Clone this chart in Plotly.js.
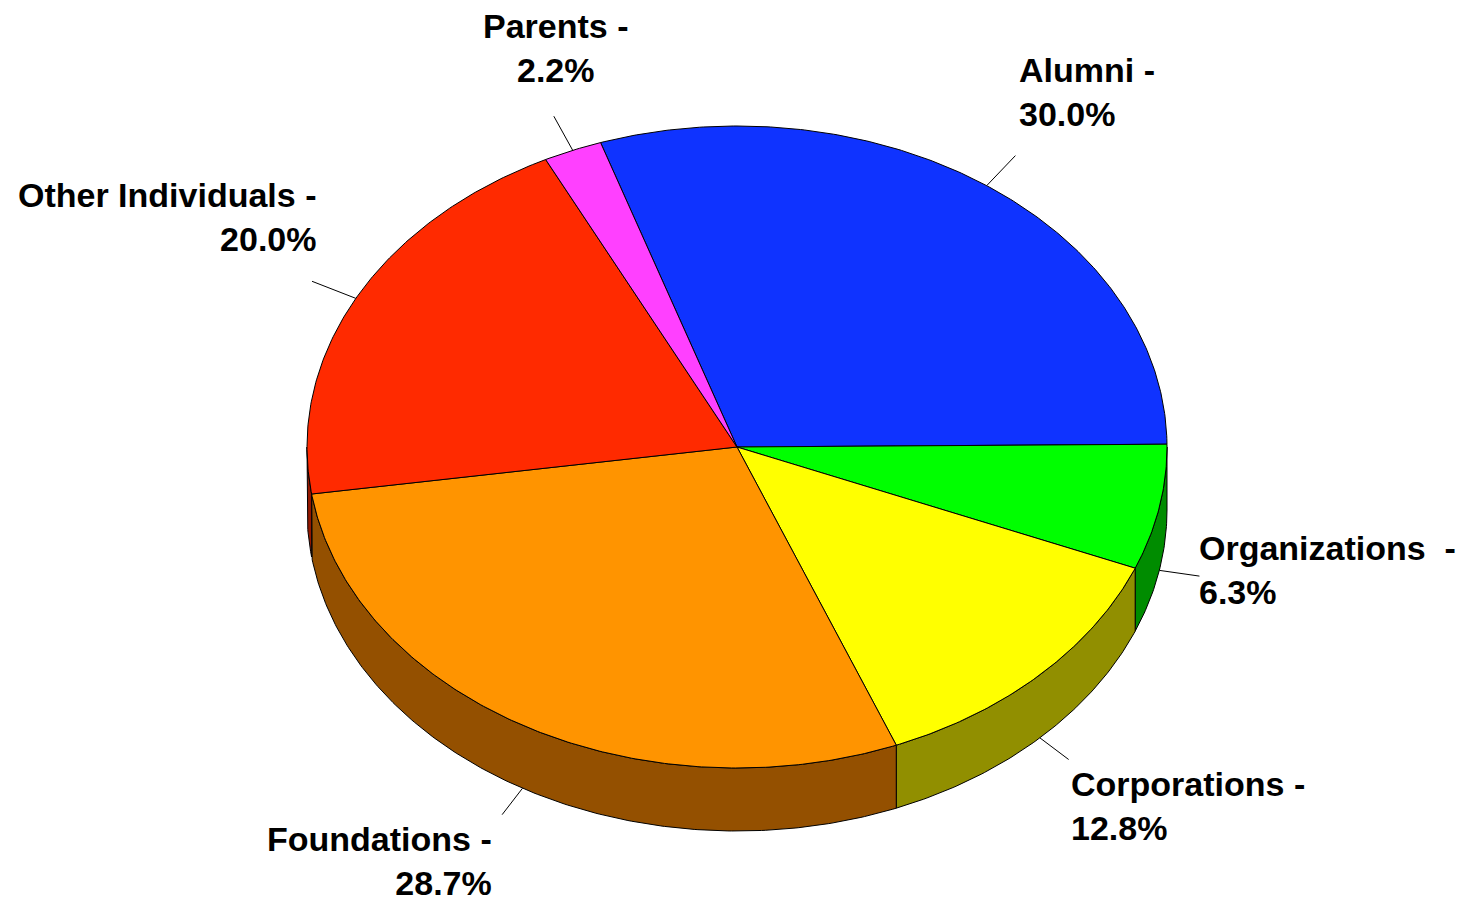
<!DOCTYPE html>
<html>
<head>
<meta charset="utf-8">
<script src="https://cdn.plot.ly/plotly-3.0.1.min.js"></script>
<style>html,body{margin:0;padding:0;background:#fff;}#chart{width:1467px;height:898px;}</style>
</head>
<body>
<div id="chart"></div>
<script>
// ---- data ----
const categories = ['Alumni', 'Organizations', 'Corporations', 'Foundations', 'Other Individuals', 'Parents'];
const values = [30.0, 6.3, 12.8, 28.7, 20.0, 2.2];
const labelNames = ['Alumni -', 'Organizations\u00a0 -', 'Corporations -', 'Foundations -', 'Other Individuals -', 'Parents -'];
const topColors = ['#0F33FF', '#00FF00', '#FFFF00', '#FF9400', '#FF2A00', '#FF40FF'];
const sideColors = ['#08198C', '#008C00', '#918F00', '#945000', '#941800', '#942594'];

// ---- geometry (layout) ----
const W = 1467, H = 898;
const cx = 737, cy = 447, rx = 430, ry = 321, depth = 63;
const startAngle = 108.5; // degrees, slices go clockwise
const total = values.reduce((a, b) => a + b, 0);
const rad = d => d * Math.PI / 180;
const px = (t) => cx + rx * Math.cos(rad(t));
const py = (t, dz) => cy - ry * Math.sin(rad(t)) + (dz || 0);

function arc(a0, a1, dz) {
  const xs = [], ys = [];
  const n = Math.max(2, Math.ceil(Math.abs(a0 - a1) / 0.5));
  for (let i = 0; i <= n; i++) {
    const t = a0 + (a1 - a0) * i / n;
    xs.push(px(t)); ys.push(py(t, dz));
  }
  return [xs, ys];
}

const traces = [];
const annotations = [];
const slices = [];
let a = startAngle;
values.forEach((v, i) => {
  const a0 = a, a1 = a - v / total * 360;
  slices.push({ a0, a1, i });
  a = a1;
});

// side walls (visible front part: angle in [-180, 0])
slices.forEach(s => {
  const hi = Math.min(s.a0, 0), lo = Math.max(s.a1, -180);
  if (hi > lo) {
    const [tx, ty] = arc(hi, lo, 0);
    const [bx, by] = arc(lo, hi, depth);
    traces.push({
      type: 'scatter', mode: 'lines', x: tx.concat(bx, [tx[0]]), y: ty.concat(by, [ty[0]]),
      fill: 'toself', fillcolor: sideColors[s.i], line: { color: '#000', width: 1 },
      hoverinfo: 'skip', showlegend: false
    });
  }
});

// top faces
slices.forEach(s => {
  const [ax, ay] = arc(s.a0, s.a1, 0);
  traces.push({
    type: 'scatter', mode: 'lines', x: [cx].concat(ax, [cx]), y: [cy].concat(ay, [cy]),
    fill: 'toself', fillcolor: topColors[s.i], line: { color: '#000', width: 1 },
    name: categories[s.i], hoverinfo: 'name', showlegend: false
  });
});

// leader lines + labels
slices.forEach(s => {
  const m = (s.a0 + s.a1) / 2;
  const c = Math.cos(rad(m)), sn = Math.sin(rad(m));
  const dz = sn < 0 ? depth : 0;
  const x0 = px(m), y0 = py(m, dz);
  const ccy = cy + dz;
  const f = sn < -0.3 || Math.abs(sn) <= 0.3 ? 1.095 : 1.115;
  const x1 = cx + (x0 - cx) * f, y1 = ccy + (y0 - ccy) * f;
  traces.push({
    type: 'scatter', mode: 'lines', x: [x0, x1], y: [y0, y1],
    line: { color: '#000', width: 1 }, hoverinfo: 'skip', showlegend: false
  });
  const xanchor = c > 0.4 ? 'left' : (c < -0.4 ? 'right' : 'center');
  const yanchor = sn > 0.3 ? 'bottom' : (sn < -0.3 ? 'top' : 'middle');
  let xs = 0, ys = 0;
  if (yanchor === 'bottom') { ys = xanchor === 'center' ? 25 : 21; xs = xanchor === 'right' ? 6 : 2; }
  if (yanchor === 'top') { ys = -3; xs = xanchor === 'left' ? 0 : -8; }
  if (yanchor === 'middle') { ys = 6; xs = -2; }
  annotations.push({
    x: x1, y: y1, xref: 'x', yref: 'y', showarrow: false,
    text: labelNames[s.i] + '<br>' + values[s.i].toFixed(1) + '%',
    xanchor: xanchor, yanchor: yanchor, align: xanchor === 'center' ? 'center' : xanchor,
    xshift: xs, yshift: ys,
    font: { family: 'Liberation Sans, Arial, sans-serif', size: 34, color: '#000', weight: 700 }
  });
});

const layout = {
  width: W, height: H,
  margin: { l: 0, r: 0, t: 0, b: 0 },
  paper_bgcolor: '#fff', plot_bgcolor: '#fff',
  xaxis: { range: [0, W], visible: false, fixedrange: true },
  yaxis: { range: [H, 0], visible: false, fixedrange: true },
  showlegend: false,
  annotations: annotations
};

Plotly.newPlot('chart', traces, layout, { displayModeBar: false, staticPlot: true });
</script>
</body>
</html>
